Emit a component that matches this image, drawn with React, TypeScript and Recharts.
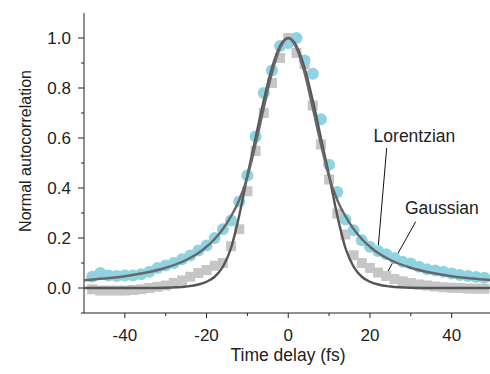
import { ComposedChart, Scatter, XAxis, YAxis, ReferenceLine, ReferenceDot } from "recharts";

// measured delay points (fs), 2 fs step
const DELAY = [-48, -46, -44, -42, -40, -38, -36, -34, -32, -30, -28, -26, -24, -22, -20, -18, -16, -14, -12, -10, -8, -6, -4, -2, 0,
    2, 4, 6, 8, 10, 12, 14, 16, 18, 20, 22, 24, 26, 28, 30, 32, 34, 36, 38, 40, 42, 44, 46, 48];

// blue circles
const CIRCLES = [0.045, 0.06, 0.05, 0.048, 0.05, 0.05, 0.055, 0.065, 0.08, 0.09, 0.1, 0.115, 0.13, 0.15, 0.17, 0.2, 0.235, 0.27, 0.346, 0.45, 0.606, 0.78, 0.87, 0.968, 0.98,
    1.0, 0.91, 0.857, 0.675, 0.493, 0.384, 0.274, 0.231, 0.191, 0.165, 0.148, 0.135, 0.12, 0.105, 0.098, 0.085, 0.075, 0.07, 0.065, 0.058, 0.052, 0.048, 0.044, 0.041];

// grey squares
const SQUARES = [-0.005, -0.01, -0.01, -0.01, -0.01, -0.008, -0.005, 0.0, 0.005, 0.01, 0.02, 0.03, 0.045, 0.06, 0.072, 0.089, 0.1, 0.167, 0.235, 0.387, 0.548, 0.7, 0.82, 0.92, 1.0,
    0.94, 0.896, 0.73, 0.574, 0.434, 0.298, 0.214, 0.131, 0.1, 0.08, 0.062, 0.048, 0.036, 0.027, 0.02, 0.014, 0.01, 0.006, 0.003, 0.001, 0.0, -0.002, -0.003, -0.003];

// fit curves
const FIT_T = [-50, -45, -40, -35, -30, -25, -22, -20, -18, -16, -14, -12, -10, -8, -6, -4, -2, 0,
    2, 4, 6, 8, 10, 12, 14, 16, 18, 20, 22, 25, 30, 35, 40, 45, 50];
const LORENTZ = [0.031, 0.038, 0.047, 0.061, 0.081, 0.112, 0.14, 0.165, 0.196, 0.236, 0.287, 0.352, 0.445, 0.575, 0.72, 0.86, 0.96, 1.0,
    0.96, 0.86, 0.72, 0.575, 0.445, 0.352, 0.287, 0.236, 0.196, 0.165, 0.14, 0.112, 0.081, 0.061, 0.047, 0.038, 0.031];
const GAUSS = [0, 0, 0, 0, 0.001, 0.006, 0.014, 0.025, 0.045, 0.085, 0.16, 0.29, 0.45, 0.6, 0.75, 0.88, 0.968, 1.0,
    0.968, 0.88, 0.75, 0.6, 0.45, 0.29, 0.16, 0.085, 0.045, 0.025, 0.014, 0.006, 0.001, 0, 0, 0, 0];

const X_TICKS = [-40, -30, -20, -10, 0, 10, 20, 30, 40];
const Y_TICKS = [-0.1, 0, 0.1, 0.2, 0.3, 0.4, 0.5, 0.6, 0.7, 0.8, 0.9, 1.0];

const circleData = DELAY.map((t, i) => ({ t, v: CIRCLES[i] }));
const squareData = DELAY.map((t, i) => ({ t, v: SQUARES[i] }));
const lorData = FIT_T.map((t, i) => ({ t, v: LORENTZ[i] }));
const gaussData = FIT_T.map((t, i) => ({ t, v: GAUSS[i] }));

const FONT = "'Liberation Sans', Arial, sans-serif";
const AXIS = "#222";

const XTick = ({ x, y, payload }: any) => {
    const major = payload.value % 20 === 0;
    return (
        <g>
            <line x1={x} x2={x} y1={y} y2={y + (major ? 5 : 3)} stroke={AXIS} strokeWidth={1} />
            {major && (
                <text x={x} y={y + 28} textAnchor="middle" fontSize={17} fontFamily={FONT} fill="#222">
                    {payload.value}
                </text>
            )}
        </g>
    );
};

const YTick = ({ x, y, payload }: any) => {
    const major = Math.round(payload.value * 10) % 2 === 0;
    return (
        <g>
            <line x1={x} x2={x - (major ? 6 : 3)} y1={y} y2={y} stroke={AXIS} strokeWidth={1} />
            {major && (
                <text x={x - 13} y={y} dy="0.36em" textAnchor="end" fontSize={17} fontFamily={FONT} fill="#222">
                    {payload.value.toFixed(1)}
                </text>
            )}
        </g>
    );
};

const Circle = ({ cx, cy }: any) => <circle cx={cx} cy={cy} r={6} fill="#8fd3e2" />;
const Square = ({ cx, cy }: any) => <rect x={cx - 5} y={cy - 5} width={10} height={10} fill="#c6c6c6" />;
const NoMark = () => <g />;

const Label = (text: string) => ({ cx, cy }: any) => (
    <text x={cx} y={cy} dy="0.36em" textAnchor="middle" fontSize={17.5} fontFamily={FONT} fill="#222">{text}</text>
);

export default function App() {
    return (
        <div style={{ position: "absolute", left: 0, top: 0, width: 490, height: 374, overflow: "hidden", background: "#fff" }}>
            <ComposedChart width={500} height={374} margin={{ top: 13, right: 7.5, left: 0, bottom: 0 }}>
                <XAxis dataKey="t" type="number" domain={[-50, 50]} ticks={X_TICKS} interval={0} height={61}
                    tick={<XTick />} tickLine={false} tickSize={0} tickMargin={0} stroke={AXIS} />
                <YAxis dataKey="v" type="number" domain={[-0.1, 1.1]} ticks={Y_TICKS} interval={0} width={84}
                    tick={<YTick />} tickLine={false} tickSize={0} tickMargin={0} stroke={AXIS} />
                <Scatter name="squares" data={squareData} dataKey="v" shape={<Square />} isAnimationActive={false} />
                <Scatter name="circles" data={circleData} dataKey="v" shape={<Circle />} isAnimationActive={false} />
                <Scatter name="gaussian" data={gaussData} dataKey="v" shape={<NoMark />} line={{ stroke: "#555", strokeWidth: 2.4 }}
                    lineJointType="monotoneX" isAnimationActive={false} />
                <Scatter name="lorentzian" data={lorData} dataKey="v" shape={<NoMark />} line={{ stroke: "#676767", strokeWidth: 2.4 }}
                    lineJointType="monotoneX" isAnimationActive={false} />
                <ReferenceLine segment={[{ x: 24.1, y: 0.56 }, { x: 22.0, y: 0.159 }]} stroke="#111" strokeWidth={1} />
                <ReferenceLine segment={[{ x: 31.2, y: 0.265 }, { x: 23.3, y: 0.035 }]} stroke="#111" strokeWidth={1} />
                <ReferenceDot x={30.9} y={0.61} shape={Label("Lorentzian")} />
                <ReferenceDot x={37.6} y={0.322} shape={Label("Gaussian")} />
            </ComposedChart>
            <div style={{ position: "absolute", left: 0, top: 0, width: 490, height: 374, pointerEvents: "none" }}>
                <svg width={490} height={374}>
                    <text x={31} y={151} transform="rotate(-90 31 151)" textAnchor="middle" fontSize={16} fontFamily={FONT} fill="#222">
                        Normal autocorrelation
                    </text>
                    <text x={288} y={361} textAnchor="middle" fontSize={17.5} fontFamily={FONT} fill="#222">
                        Time delay (fs)
                    </text>
                </svg>
            </div>
        </div>
    );
}
